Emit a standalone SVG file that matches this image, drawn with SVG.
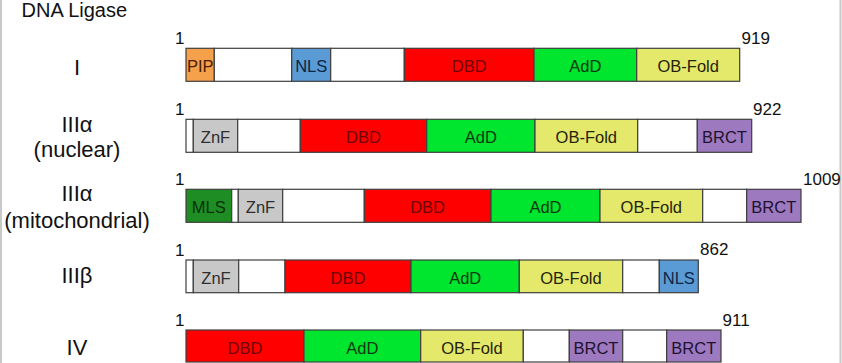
<svg xmlns="http://www.w3.org/2000/svg" width="842" height="363" viewBox="0 0 842 363">
<style>
  text { font-family: "Liberation Sans", Arial, sans-serif; }
  .title { font-size: 20px; fill: #111; }
  .row { font-size: 22px; fill: #111; text-anchor: middle; }
  .num { font-size: 17px; fill: #111; }
  .lbl { font-size: 16.5px; text-anchor: middle; }
  rect.d { stroke: #3f3f3f; stroke-width: 1.2; }
  .w { fill: #ffffff; }
  .pip { fill: #F5A04A; } .t-pip { fill: #4a1c00; }
  .nls { fill: #5B9BD5; } .t-nls { fill: #0c2544; }
  .dbd { fill: #FF0000; } .t-dbd { fill: #700000; }
  .add { fill: #00E52E; } .t-add { fill: #0b380b; }
  .ob { fill: #E4E86B; } .t-ob { fill: #24240c; }
  .brct { fill: #9D79BF; } .t-brct { fill: #201230; }
  .znf { fill: #C8C8C8; } .t-znf { fill: #2e2e2e; }
  .mls { fill: #1E8E24; } .t-mls { fill: #0a2e0a; }
</style>
<rect x="0" y="0" width="842" height="363" fill="#ffffff"/>
<rect x="0" y="0" width="2" height="363" fill="#c8c8c8"/>
<rect x="839.5" y="0" width="2" height="363" fill="#c8c8c8"/>

<text class="title" x="21.5" y="17">DNA Ligase</text>

<g id="ligase-I">
  <text class="row" x="77" y="75">I</text>
  <text class="num" x="175" y="44">1</text>
  <text class="num" x="741.5" y="44">919</text>
  <rect class="d pip" x="186" y="48.3" width="28.3" height="33"/>
  <rect class="d w" x="214.3" y="48.3" width="77.4" height="33"/>
  <rect class="d nls" x="291.7" y="48.3" width="39" height="33"/>
  <rect class="d w" x="330.7" y="48.3" width="73.6" height="33"/>
  <rect class="d dbd" x="404.3" y="48.3" width="129.7" height="33"/>
  <rect class="d add" x="534" y="48.3" width="102.7" height="33"/>
  <rect class="d ob" x="636.7" y="48.3" width="103" height="33"/>
  <text class="lbl t-pip" x="200.2" y="72">PIP</text>
  <text class="lbl t-nls" x="311.2" y="72">NLS</text>
  <text class="lbl t-dbd" x="469.2" y="72">DBD</text>
  <text class="lbl t-add" x="585.3" y="72">AdD</text>
  <text class="lbl t-ob" x="688.2" y="72">OB-Fold</text>
</g>

<g id="ligase-IIIa-nuclear">
  <text class="row" x="77" y="131.5">IIIα</text>
  <text class="row" x="77" y="157">(nuclear)</text>
  <text class="num" x="175" y="115">1</text>
  <text class="num" x="753" y="115">922</text>
  <rect class="d w" x="186" y="119.3" width="7.3" height="33"/>
  <rect class="d znf" x="193.3" y="119.3" width="44.4" height="33"/>
  <rect class="d w" x="237.7" y="119.3" width="62.6" height="33"/>
  <rect class="d dbd" x="300.3" y="119.3" width="126.4" height="33"/>
  <rect class="d add" x="426.7" y="119.3" width="108.3" height="33"/>
  <rect class="d ob" x="535" y="119.3" width="102.7" height="33"/>
  <rect class="d w" x="637.7" y="119.3" width="59.6" height="33"/>
  <rect class="d brct" x="697.3" y="119.3" width="54.4" height="33"/>
  <text class="lbl t-znf" x="215.5" y="143">ZnF</text>
  <text class="lbl t-dbd" x="363.5" y="143">DBD</text>
  <text class="lbl t-add" x="480.8" y="143">AdD</text>
  <text class="lbl t-ob" x="586.3" y="143">OB-Fold</text>
  <text class="lbl t-brct" x="724.5" y="143">BRCT</text>
</g>

<g id="ligase-IIIa-mitochondrial">
  <text class="row" x="77" y="200.5">IIIα</text>
  <text class="row" x="77" y="228">(mitochondrial)</text>
  <text class="num" x="175" y="185">1</text>
  <text class="num" x="803" y="185">1009</text>
  <rect class="d mls" x="186" y="189.3" width="45.7" height="33"/>
  <rect class="d w" x="231.7" y="189.3" width="6.6" height="33"/>
  <rect class="d znf" x="238.3" y="189.3" width="44.4" height="33"/>
  <rect class="d w" x="282.7" y="189.3" width="81.6" height="33"/>
  <rect class="d dbd" x="364.3" y="189.3" width="126.7" height="33"/>
  <rect class="d add" x="491" y="189.3" width="109" height="33"/>
  <rect class="d ob" x="600" y="189.3" width="102.7" height="33"/>
  <rect class="d w" x="702.7" y="189.3" width="44" height="33"/>
  <rect class="d brct" x="746.7" y="189.3" width="54.3" height="33"/>
  <text class="lbl t-mls" x="208.8" y="213">MLS</text>
  <text class="lbl t-znf" x="260.5" y="213">ZnF</text>
  <text class="lbl t-dbd" x="427.6" y="213">DBD</text>
  <text class="lbl t-add" x="545.5" y="213">AdD</text>
  <text class="lbl t-ob" x="651.3" y="213">OB-Fold</text>
  <text class="lbl t-brct" x="773.8" y="213">BRCT</text>
</g>

<g id="ligase-IIIb">
  <text class="row" x="77" y="282.5">IIIβ</text>
  <text class="num" x="175" y="255.5">1</text>
  <text class="num" x="700" y="255">862</text>
  <rect class="d w" x="186" y="260" width="7.3" height="32.7"/>
  <rect class="d znf" x="193.3" y="260" width="45.4" height="32.7"/>
  <rect class="d w" x="238.7" y="260" width="46.3" height="32.7"/>
  <rect class="d dbd" x="285" y="260" width="126" height="32.7"/>
  <rect class="d add" x="411" y="260" width="108.3" height="32.7"/>
  <rect class="d ob" x="519.3" y="260" width="103.4" height="32.7"/>
  <rect class="d w" x="622.7" y="260" width="36.6" height="32.7"/>
  <rect class="d nls" x="659.3" y="260" width="39" height="32.7"/>
  <text class="lbl t-znf" x="216" y="283.5">ZnF</text>
  <text class="lbl t-dbd" x="348" y="283.5">DBD</text>
  <text class="lbl t-add" x="465.2" y="283.5">AdD</text>
  <text class="lbl t-ob" x="571" y="283.5">OB-Fold</text>
  <text class="lbl t-nls" x="678.8" y="283.5">NLS</text>
</g>

<g id="ligase-IV">
  <text class="row" x="77" y="355">IV</text>
  <text class="num" x="175" y="326">1</text>
  <text class="num" x="722.5" y="325.5">911</text>
  <rect class="d dbd" x="186" y="330" width="118" height="32"/>
  <rect class="d add" x="304" y="330" width="116.7" height="32"/>
  <rect class="d ob" x="420.7" y="330" width="102.6" height="32"/>
  <rect class="d w" x="523.3" y="330" width="46" height="32"/>
  <rect class="d brct" x="569.3" y="330" width="53.4" height="32"/>
  <rect class="d w" x="622.7" y="330" width="44" height="32"/>
  <rect class="d brct" x="666.7" y="330" width="54.3" height="32"/>
  <text class="lbl t-dbd" x="245" y="353.5">DBD</text>
  <text class="lbl t-add" x="362.3" y="353.5">AdD</text>
  <text class="lbl t-ob" x="472" y="353.5">OB-Fold</text>
  <text class="lbl t-brct" x="596" y="353.5">BRCT</text>
  <text class="lbl t-brct" x="693.8" y="353.5">BRCT</text>
</g>
</svg>
